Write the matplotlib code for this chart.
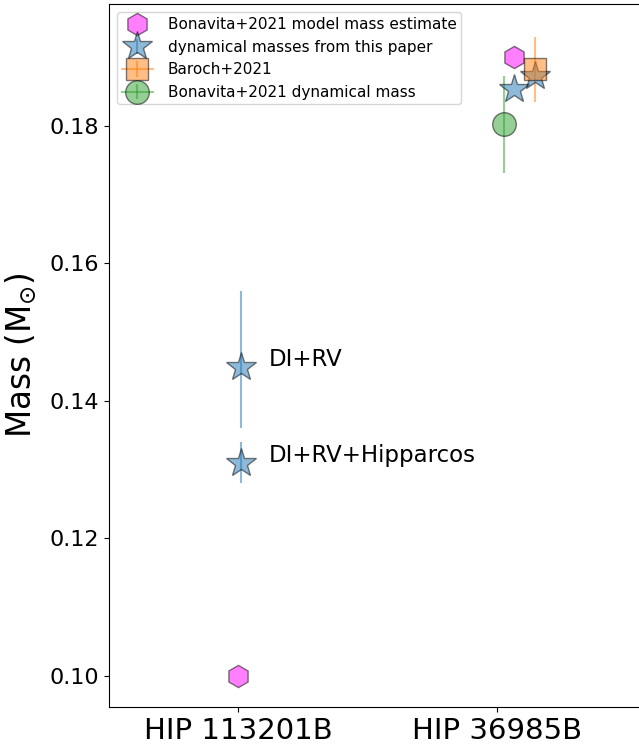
import numpy as np
import matplotlib
matplotlib.use("Agg")
import matplotlib.pyplot as plt

# companions on the x axis
names = ['HIP 113201B', 'HIP 36985B']

# Bonavita+2021 model mass estimate
model_x = [0.0, 1.066]
model_m = [0.100, 0.190]

# dynamical masses from this paper
dyn_x = [0.01, 0.01, 1.066, 1.147]
dyn_m = [0.145, 0.131, 0.1854, 0.1873]
dyn_lo = [0.009, 0.003, 0.0, 0.0]
dyn_hi = [0.011, 0.003, 0.0, 0.0]
dyn_lab = ['DI+RV', 'DI+RV+Hipparcos']

# Baroch+2021
bar_x = [1.147]
bar_m = [0.1882]
bar_err = [0.0047]

# Bonavita+2021 dynamical mass
bon_x = [1.027]
bon_m = [0.1802]
bon_err = [0.007]

fig = plt.figure(figsize=(6.39, 7.49), dpi=100)
ax = fig.add_axes([109/639, 42/749, 536/639, 703/749])

ax.plot(model_x, model_m, 'h', color='magenta', ms=16, alpha=0.5,
        mec='k', ls='none', label='Bonavita+2021 model mass estimate')
ax.errorbar(dyn_x, dyn_m, yerr=[dyn_lo, dyn_hi], fmt='*', color='C0', ms=22,
            alpha=0.5, mec='k', label='dynamical masses from this paper')
ax.errorbar(bar_x, bar_m, yerr=bar_err, marker='s', color='C1', ms=16,
            alpha=0.5, mec='k', label='Baroch+2021')
ax.errorbar(bon_x, bon_m, yerr=bon_err, marker='o', color='C2', ms=17,
            alpha=0.5, mec='k', label='Bonavita+2021 dynamical mass')

for i in range(2):
    ax.text(dyn_x[i] + 0.11, dyn_m[i] + 0.001, dyn_lab[i], fontsize=16.5, va='center')

ax.set_xlim(-0.5, 1.574)
ax.set_ylim(0.0955, 0.1977)
ax.set_xticks([0, 1])
ax.set_xticklabels(names, fontsize=21)
ax.set_yticks([0.10, 0.12, 0.14, 0.16, 0.18])
ax.tick_params(axis='y', labelsize=16)
ax.set_ylabel(r'Mass (M$_{\odot}$)', fontsize=23.5, labelpad=8)
ax.legend(loc='upper left', fontsize=11, borderaxespad=0.55, handletextpad=1.0,
          handlelength=2.0, labelspacing=0.5, borderpad=0.3)

fig.savefig('out.png', dpi=100)
